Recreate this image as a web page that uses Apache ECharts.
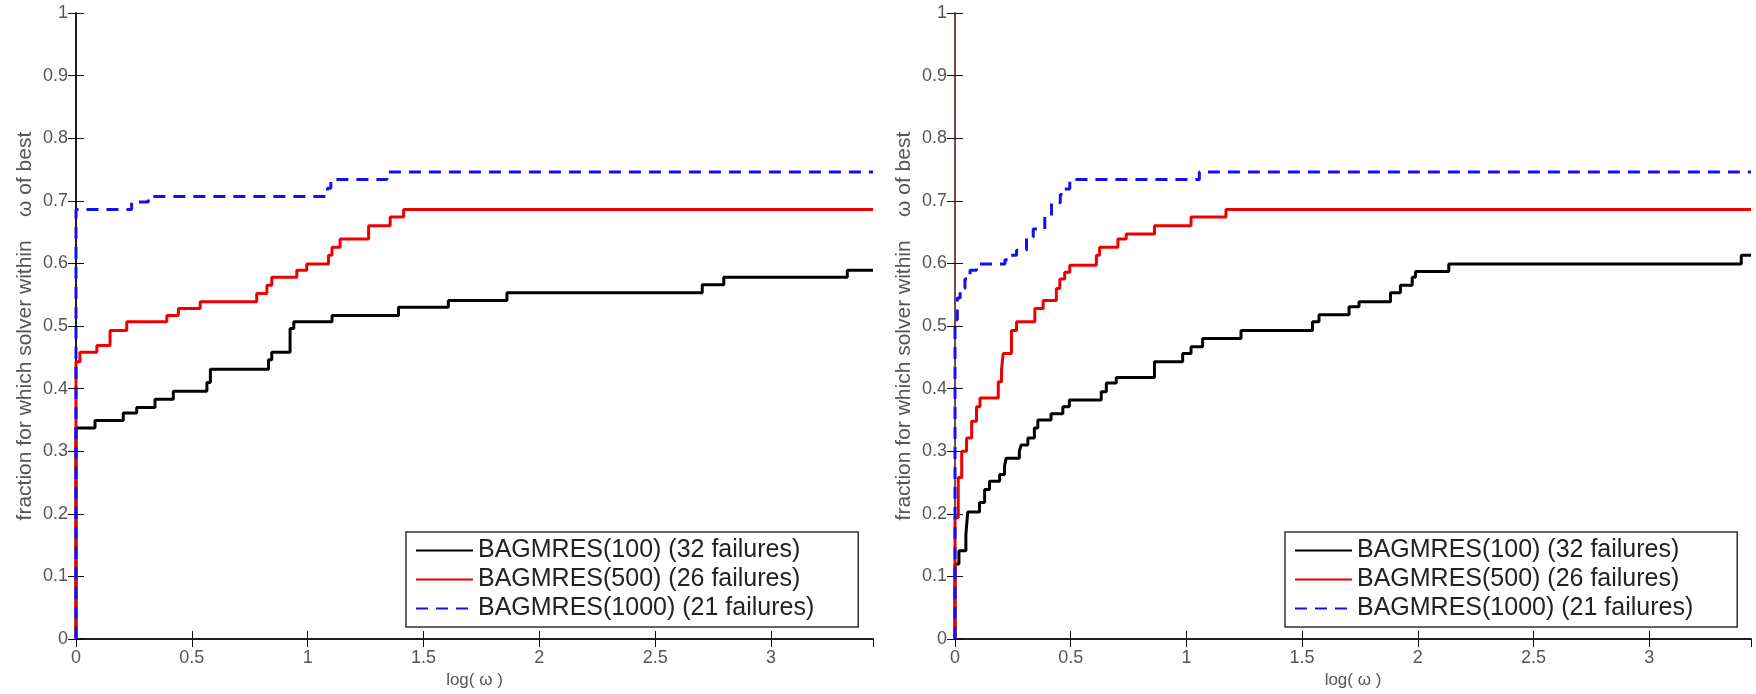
<!DOCTYPE html>
<html>
<head>
<meta charset="utf-8">
<title>BAGMRES performance profiles</title>
<script src="https://cdn.jsdelivr.net/npm/echarts@6/dist/echarts.min.js"></script>
<style>
  body { margin: 0; background: #fff; }
  .profile { width: 1756px; height: 694px; }
</style>
</head>
<body>
<div class="profile"></div>
<script>
// series names (legend)
var names = ['BAGMRES(100) (32 failures)', 'BAGMRES(500) (26 failures)', 'BAGMRES(1000) (21 failures)'];
var xMax = 3.44;

// left panel, step points (log(w), fraction)
var leftBlackX = [0, 0, 0.082, 0.204, 0.262, 0.341, 0.42, 0.565, 0.58, 0.831, 0.845, 0.924, 0.94, 1.105, 1.392, 1.607, 1.86, 2.703, 2.796, 3.329, 3.44];
var leftBlackY = [0, 0.337, 0.349, 0.361, 0.37, 0.383, 0.396, 0.41, 0.431, 0.446, 0.458, 0.496, 0.507, 0.517, 0.53, 0.541, 0.553, 0.566, 0.578, 0.589, 0.589];
var leftRedX = [0, 0, 0.017, 0.09, 0.147, 0.219, 0.392, 0.442, 0.536, 0.78, 0.824, 0.845, 0.953, 0.996, 1.09, 1.105, 1.14, 1.263, 1.356, 1.414, 3.44];
var leftRedY = [0, 0.443, 0.458, 0.469, 0.493, 0.507, 0.517, 0.528, 0.539, 0.552, 0.565, 0.578, 0.589, 0.599, 0.613, 0.626, 0.639, 0.66, 0.674, 0.686, 0.686];
var leftBlueX = [0, 0, 0.24, 0.312, 1.085, 1.1, 1.342, 3.44];
var leftBlueY = [0, 0.686, 0.698, 0.707, 0.72, 0.734, 0.746, 0.746];

// right panel
var rightBlackX = [0, 0, 0.017, 0.047, 0.055, 0.106, 0.128, 0.149, 0.193, 0.214, 0.221, 0.278, 0.286, 0.315, 0.343, 0.358, 0.415, 0.466, 0.494, 0.632, 0.654, 0.697, 0.862, 0.984, 1.02, 1.07, 1.236, 1.545, 1.573, 1.703, 1.746, 1.882, 1.925, 1.976, 1.99, 2.134, 3.398, 3.44];
var rightBlackY = [0, 0.12, 0.141, 0.167, 0.203, 0.218, 0.239, 0.252, 0.263, 0.276, 0.289, 0.3, 0.31, 0.321, 0.337, 0.35, 0.36, 0.371, 0.382, 0.395, 0.409, 0.418, 0.443, 0.456, 0.467, 0.48, 0.493, 0.507, 0.518, 0.531, 0.539, 0.553, 0.565, 0.578, 0.587, 0.599, 0.613, 0.613];
var rightRedX = [0, 0, 0.014, 0.029, 0.05, 0.072, 0.093, 0.108, 0.187, 0.201, 0.208, 0.244, 0.266, 0.345, 0.381, 0.438, 0.453, 0.474, 0.496, 0.611, 0.625, 0.704, 0.74, 0.862, 1.02, 1.171, 3.44];
var rightRedY = [0, 0.194, 0.258, 0.3, 0.321, 0.348, 0.371, 0.385, 0.411, 0.43, 0.456, 0.493, 0.507, 0.528, 0.541, 0.56, 0.575, 0.586, 0.597, 0.613, 0.626, 0.639, 0.647, 0.66, 0.674, 0.686, 0.686];
var rightBlueX = [0, 0, 0.01, 0.022, 0.043, 0.065, 0.093, 0.216, 0.24, 0.266, 0.309, 0.338, 0.388, 0.417, 0.455, 0.474, 0.496, 1.056, 3.44];
var rightBlueY = [0, 0.51, 0.545, 0.56, 0.575, 0.589, 0.599, 0.606, 0.613, 0.621, 0.642, 0.655, 0.676, 0.697, 0.71, 0.719, 0.734, 0.746, 0.746];

var font = "'Liberation Sans', Arial, Helvetica, sans-serif";

function pairs(xs, ys) {
    return xs.map(function (x, i) { return [x, ys[i]]; });
}

function xAxisFor(grid, pos, withLabels) {
    return {
        type: 'value',
        gridIndex: grid,
        position: pos,
        min: 0,
        max: xMax,
        interval: 0.5,
        name: withLabels ? 'log( ω )' : '',
        nameLocation: 'middle',
        nameGap: 30,
        nameTextStyle: { fontSize: 17, color: '#555', fontFamily: font },
        axisLine: { show: true, lineStyle: { color: '#111', width: 1.5 } },
        axisTick: { show: true, inside: true, length: 8, lineStyle: { color: '#111' } },
        axisLabel: {
            show: withLabels,
            margin: 10,
            fontSize: 18,
            color: '#555',
            fontFamily: font,
            showMaxLabel: false,
            formatter: function (v) {
                return Math.abs(v * 2 - Math.round(v * 2)) < 1e-6 ? String(v) : '';
            }
        },
        splitLine: { show: false }
    };
}

function yAxisFor(grid, pos, withLabels, lineColor) {
    return {
        type: 'value',
        gridIndex: grid,
        position: pos,
        min: 0,
        max: 1,
        interval: 0.1,
        name: withLabels ? 'fraction for which solver within    ω of best' : '',
        nameLocation: 'middle',
        nameGap: 40,
        nameTextStyle: { fontSize: 21, color: '#555', fontFamily: font },
        axisLine: { show: true, lineStyle: { color: lineColor, width: 1.5 } },
        axisTick: { show: true, inside: true, length: 8, lineStyle: { color: '#111' } },
        axisLabel: { show: withLabels, margin: 8, fontSize: 18, color: '#555', fontFamily: font },
        splitLine: { show: false }
    };
}

function legendFor(left) {
    return {
        orient: 'vertical',
        left: left,
        top: 532,
        padding: [6, 44, 6, 9],
        itemGap: 4,
        itemWidth: 57,
        itemHeight: 14,
        backgroundColor: '#fff',
        borderColor: '#333',
        borderWidth: 1.5,
        borderRadius: 0,
        itemStyle: { opacity: 0 },
        textStyle: { fontSize: 25, lineHeight: 25, color: '#222', fontFamily: font },
        data: names
    };
}

function lineSeries(name, idx, data, color, dashed) {
    return {
        name: name,
        type: 'line',
        xAxisIndex: idx,
        yAxisIndex: idx,
        step: 'end',
        showSymbol: false,
        symbol: 'none',
        lineStyle: { color: color, width: 3, type: dashed ? [12, 8] : 'solid' },
        itemStyle: { color: color },
        data: data
    };
}

var myChart = echarts.init(document.querySelector('.profile'));
var option = {
    animation: false,
    backgroundColor: '#fff',
    grid: [
        { left: 76, top: 13, width: 797, height: 629 },
        { left: 955, top: 13, width: 796, height: 629 }
    ],
    xAxis: [
        xAxisFor(0, 'bottom', true),
        xAxisFor(1, 'bottom', true),
        xAxisFor(0, 'top', false),
        xAxisFor(1, 'top', false)
    ],
    yAxis: [
        yAxisFor(0, 'left', true, '#111'),
        yAxisFor(1, 'left', true, '#4a2c2c'),
        yAxisFor(0, 'right', false, '#111'),
        yAxisFor(1, 'right', false, '#7a4545')
    ],
    legend: [legendFor(406), legendFor(1285)],
    series: [
        lineSeries(names[0], 0, pairs(leftBlackX, leftBlackY), '#000000', false),
        lineSeries(names[1], 0, pairs(leftRedX, leftRedY), '#ee0000', false),
        lineSeries(names[2], 0, pairs(leftBlueX, leftBlueY), '#1010f0', true),
        lineSeries(names[0], 1, pairs(rightBlackX, rightBlackY), '#000000', false),
        lineSeries(names[1], 1, pairs(rightRedX, rightRedY), '#ee0000', false),
        lineSeries(names[2], 1, pairs(rightBlueX, rightBlueY), '#1010f0', true)
    ]
};

myChart.setOption(option);
window.addEventListener('resize', function () {
    myChart.resize();
});
</script>
</body>
</html>
